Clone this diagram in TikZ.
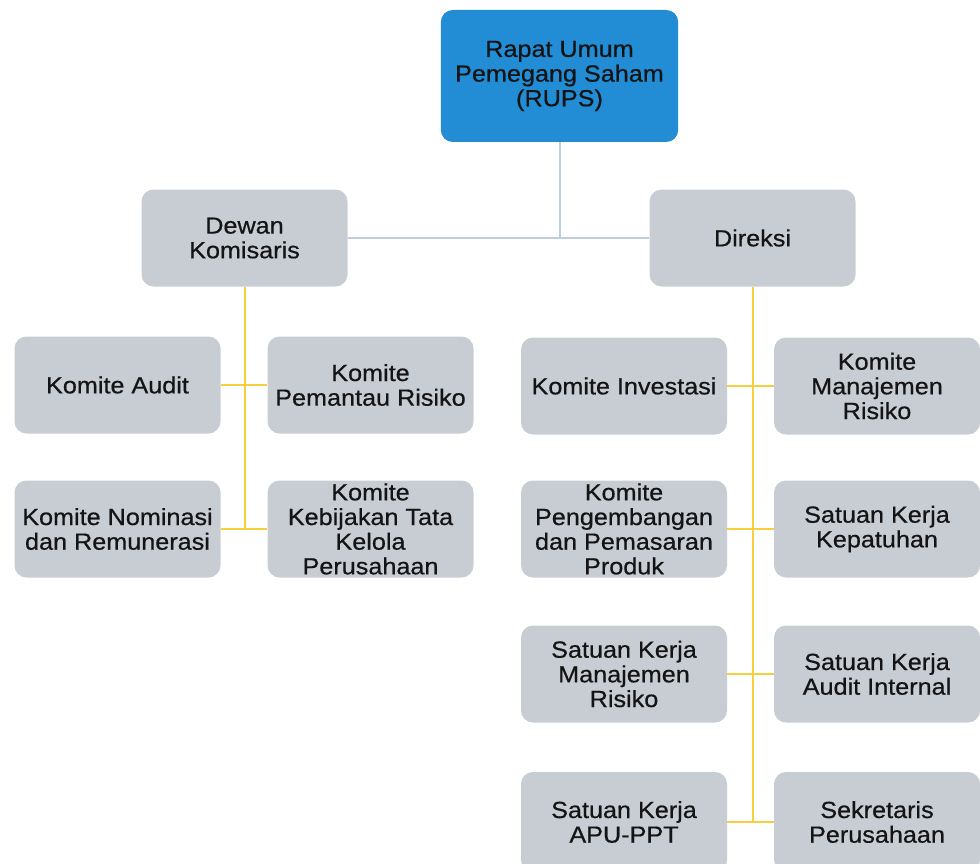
\documentclass[tikz,border=0pt]{standalone}
\usepackage{fontspec}
\setmainfont{Liberation Sans}[FakeStretch=1.08, FakeBold=0.6]
\definecolor{rupsblue}{RGB}{34,140,212}
\definecolor{boxgray}{RGB}{200,205,212}
\definecolor{topline}{RGB}{190,206,226}
\definecolor{branchyellow}{RGB}{246,208,60}
\definecolor{txt}{RGB}{20,20,20}
\tikzset{
  orgbox/.style={rounded corners=9pt, fill=boxgray, draw=none, align=center, inner sep=0pt,
    minimum width=154.5pt, minimum height=72.75pt, text=txt,
    font=\fontsize{17.5}{18.5}\selectfont},
  topbox/.style={orgbox, fill=rupsblue, minimum width=178pt, minimum height=99pt},
  lastrow/.style={minimum height=75pt},
  toplink/.style={draw=topline, line width=1.5pt},
  yellink/.style={draw=branchyellow, line width=1.5pt}
}
\begin{document}
\begin{tikzpicture}[x=0.75pt, y=-0.75pt]
\useasboundingbox (0,0) rectangle (980,863);
\fill[white] (0,0) rectangle (980,863);
% top
\node[topbox] (rups) at (559.5,76) {Rapat Umum\\Pemegang Saham\\(RUPS)};
\node[orgbox] (dk) at (244.5,238) {Dewan\\Komisaris};
\node[orgbox] (dir) at (752.5,238) {Direksi};
% left committees
\node[orgbox] (ka) at (117.5,385) {Komite Audit};
\node[orgbox] (kp) at (370.5,385) {Komite\\Pemantau Risiko};
\node[orgbox] (kn) at (117.5,529) {Komite Nominasi\\dan Remunerasi};
\node[orgbox] (kk) at (370.5,529) {Komite\\Kebijakan Tata\\Kelola\\Perusahaan};
% right units
\node[orgbox] (ki) at (624,386) {Komite Investasi};
\node[orgbox] (km) at (877,386) {Komite\\Manajemen\\Risiko};
\node[orgbox] (kpp) at (624,529) {Komite\\Pengembangan\\dan Pemasaran\\Produk};
\node[orgbox] (skk) at (877,529) {Satuan Kerja\\Kepatuhan};
\node[orgbox] (skm) at (624,674) {Satuan Kerja\\Manajemen\\Risiko};
\node[orgbox] (ska) at (877,674) {Satuan Kerja\\Audit Internal};
\node[orgbox, lastrow] (apu) at (624,822) {Satuan Kerja\\APU-PPT};
\node[orgbox, lastrow] (sek) at (877,822) {Sekretaris\\Perusahaan};
% connectors
\draw[toplink] (dk.east) -- (dir.west);
\draw[toplink] (rups.south) -- (rups.south |- dk.east);
\draw[yellink] (dk.south) -- (dk.south |- kn.east);
\draw[yellink] (ka.east) -- (kp.west);
\draw[yellink] (kn.east) -- (kk.west);
\draw[yellink] (dir.south) -- (dir.south |- apu.east);
\draw[yellink] (ki.east) -- (km.west);
\draw[yellink] (kpp.east) -- (skk.west);
\draw[yellink] (skm.east) -- (ska.west);
\draw[yellink] (apu.east) -- (sek.west);
\end{tikzpicture}
\end{document}
